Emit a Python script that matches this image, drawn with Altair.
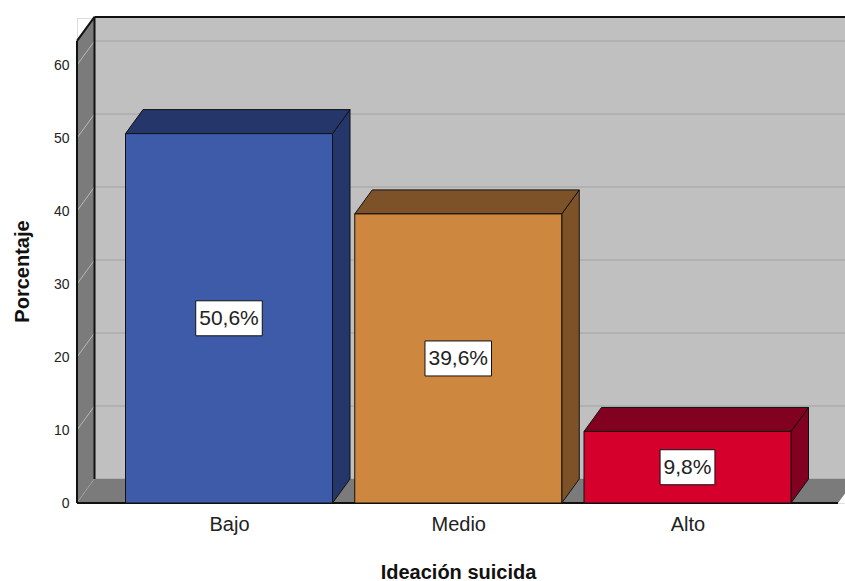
import json
import altair as alt
import pandas as pd

# ---------------- data ----------------
categories = ["Bajo", "Medio", "Alto"]
percentages = [50.6, 39.6, 9.8]
bar_labels = ["50,6%", "39,6%", "9,8%"]
y_ticks = [0, 10, 20, 30, 40, 50, 60]

# ---------------- styles ----------------
FRONT = ["#3e5ba9", "#cd873f", "#d5002c"]
SHADE = ["#25366a", "#7d5229", "#820020"]
WALL = "#c0c0c0"
DARK_WALL = "#7b7b7b"
GRID = "#adadad"
FONT = "Liberation Sans"

W, H = 768, 485
PX_Y = 7.3            # px per percent
PX_X = 229.25         # px per category step
FIRST_CENTER_PX = 152
DX_PX, DY_PX = 17.5, 24
BAR_HALF_PX = 103.5
WALL_TOP = 63.3       # wall height (front), in percent
FLOOR_RIGHT_PX = 761
BOX_H_PX = 35
LABEL_FS = 21

ymax = H / PX_Y
xmin = -FIRST_CENTER_PX / PX_X
xmax = xmin + W / PX_X
dx = DX_PX / PX_X
dy = DY_PX / PX_Y
hw = BAR_HALF_PX / PX_X
floor_right = xmin + FLOOR_RIGHT_PX / PX_X

xs = alt.Scale(domain=[xmin, xmax], nice=False, zero=False)
ys = alt.Scale(domain=[0, ymax], nice=False, zero=False)

x_axis = alt.Axis(
    values=list(range(len(categories))),
    labelExpr=json.dumps(categories) + "[round(datum.value)]",
    labelFontSize=20, labelPadding=11, labelColor="#222", labelFont=FONT,
    ticks=False, domain=False, grid=False,
    title="Ideación suicida", titleFontSize=20, titleFontWeight="bold",
    titleFont=FONT, titleColor="#111",
    titleX=381, titleY=75, titleBaseline="alphabetic",
)
y_axis = alt.Axis(
    values=y_ticks, labelFontSize=14, labelPadding=8, labelColor="#222",
    labelFont=FONT, ticks=False, domain=False, grid=False,
    title="Porcentaje", titleFontSize=20, titleFontWeight="bold",
    titleFont=FONT, titleColor="#111",
    titleX=-55, titleY=253, titleBaseline="middle", titleAngle=-90,
)


def X(f="x"):
    return alt.X(f + ":Q", scale=xs, axis=x_axis)


def Y(f="y"):
    return alt.Y(f + ":Q", scale=ys, axis=y_axis)


# back wall
back = pd.DataFrame([{"x": xmin + dx, "x2": xmax, "y": dy, "y2": WALL_TOP + dy}])
back_l = alt.Chart(back).mark_rect(color=WALL).encode(
    x=X(), x2="x2:Q", y=Y(), y2="y2:Q")

# back grid lines
grid = pd.DataFrame([{"x": xmin + dx, "x2": xmax, "y": v + dy} for v in y_ticks])
grid_l = alt.Chart(grid).mark_rule(color=GRID, strokeWidth=1.5).encode(
    x=X(), x2="x2:Q", y=Y())

# left wall
lw = pd.DataFrame([
    {"x": xmin, "y": 0, "y2": WALL_TOP},
    {"x": xmin + dx, "y": dy, "y2": WALL_TOP + dy},
])
lw_l = alt.Chart(lw).mark_area(color=DARK_WALL).encode(x=X(), y=Y(), y2="y2:Q")

# floor
fl = pd.DataFrame([
    {"y": 0, "x": xmin, "x2": floor_right},
    {"y": dy, "x": xmin + dx, "x2": floor_right + dx},
])
fl_l = alt.Chart(fl).mark_area(color=DARK_WALL, orient="horizontal", clip=True).encode(
    y=Y(), x=X(), x2="x2:Q")

# diagonal grid lines on the left wall
diag = pd.DataFrame([{"x": xmin, "x2": xmin + dx, "y": v, "y2": v + dy} for v in y_ticks])
diag_l = alt.Chart(diag).mark_rule(color="#b8b8b8", strokeWidth=1).encode(
    x=X(), x2="x2:Q", y=Y(), y2="y2:Q")

# black edges
edges = pd.DataFrame([
    {"x": xmin, "x2": xmin, "y": 0, "y2": WALL_TOP},
    {"x": xmin + dx, "x2": xmin + dx, "y": dy, "y2": WALL_TOP + dy},
    {"x": xmin, "x2": xmin + dx, "y": WALL_TOP, "y2": WALL_TOP + dy},
    {"x": xmin + dx, "x2": xmax, "y": WALL_TOP + dy, "y2": WALL_TOP + dy},
    {"x": xmin, "x2": floor_right, "y": 0, "y2": 0},
])
edges_l = alt.Chart(edges).mark_rule(color="#111", strokeWidth=2).encode(
    x=X(), x2="x2:Q", y=Y(), y2="y2:Q")

# bars
side_rows, top_rows, front_rows, box_rows = [], [], [], []
CW = {",": 0.278, "%": 0.889}
for i, (v, lab) in enumerate(zip(percentages, bar_labels)):
    side_rows += [
        {"id": i, "x": i + hw, "y": 0, "y2": v, "c": SHADE[i]},
        {"id": i, "x": i + hw + dx, "y": dy, "y2": v + dy, "c": SHADE[i]},
    ]
    top_rows += [
        {"id": i, "y": v, "x": i - hw, "x2": i + hw, "c": SHADE[i]},
        {"id": i, "y": v + dy, "x": i - hw + dx, "x2": i + hw + dx, "c": SHADE[i]},
    ]
    front_rows.append({"x": i - hw, "x2": i + hw, "y": 0, "y2": v, "c": FRONT[i]})
    tw = sum(CW.get(ch, 0.556) for ch in lab) * LABEL_FS + 7
    bw = tw / 2 / PX_X
    bh = BOX_H_PX / 2 / PX_Y
    box_rows.append({"x": i - bw, "x2": i + bw, "y": v / 2 - bh, "y2": v / 2 + bh,
                     "xc": i, "yc": v / 2, "t": lab})

side_l = alt.Chart(pd.DataFrame(side_rows)).mark_area(stroke="#111", strokeWidth=1).encode(
    x=X(), y=Y(), y2="y2:Q", detail="id:N", fill=alt.Fill("c:N", scale=None))
top_l = alt.Chart(pd.DataFrame(top_rows)).mark_area(
    orient="horizontal", stroke="#111", strokeWidth=1).encode(
    y=Y(), x=X(), x2="x2:Q", detail="id:N", fill=alt.Fill("c:N", scale=None))
front_l = alt.Chart(pd.DataFrame(front_rows)).mark_rect(stroke="#111", strokeWidth=1).encode(
    x=X(), x2="x2:Q", y=Y(), y2="y2:Q", fill=alt.Fill("c:N", scale=None))

boxes = pd.DataFrame(box_rows)
box_l = alt.Chart(boxes).mark_rect(fill="white", stroke="#111", strokeWidth=1).encode(
    x=X(), x2="x2:Q", y=Y(), y2="y2:Q")
txt_l = alt.Chart(boxes).mark_text(
    font=FONT, fontSize=LABEL_FS, color="#222", baseline="middle", align="center", dy=1
).encode(x=X("xc"), y=Y("yc"), text="t:N")

chart = alt.layer(
    back_l, grid_l, lw_l, diag_l, fl_l, edges_l,
    side_l, top_l, front_l, box_l, txt_l,
).properties(
    width=W, height=H,
    autosize=alt.AutoSizeParams(type="none"),
    padding={"left": 77, "top": 18, "right": 0, "bottom": 78},
    background="white",
).configure_view(stroke=None).configure(font=FONT)

chart.save("out.html", embed_options={"renderer": "svg", "actions": False})
